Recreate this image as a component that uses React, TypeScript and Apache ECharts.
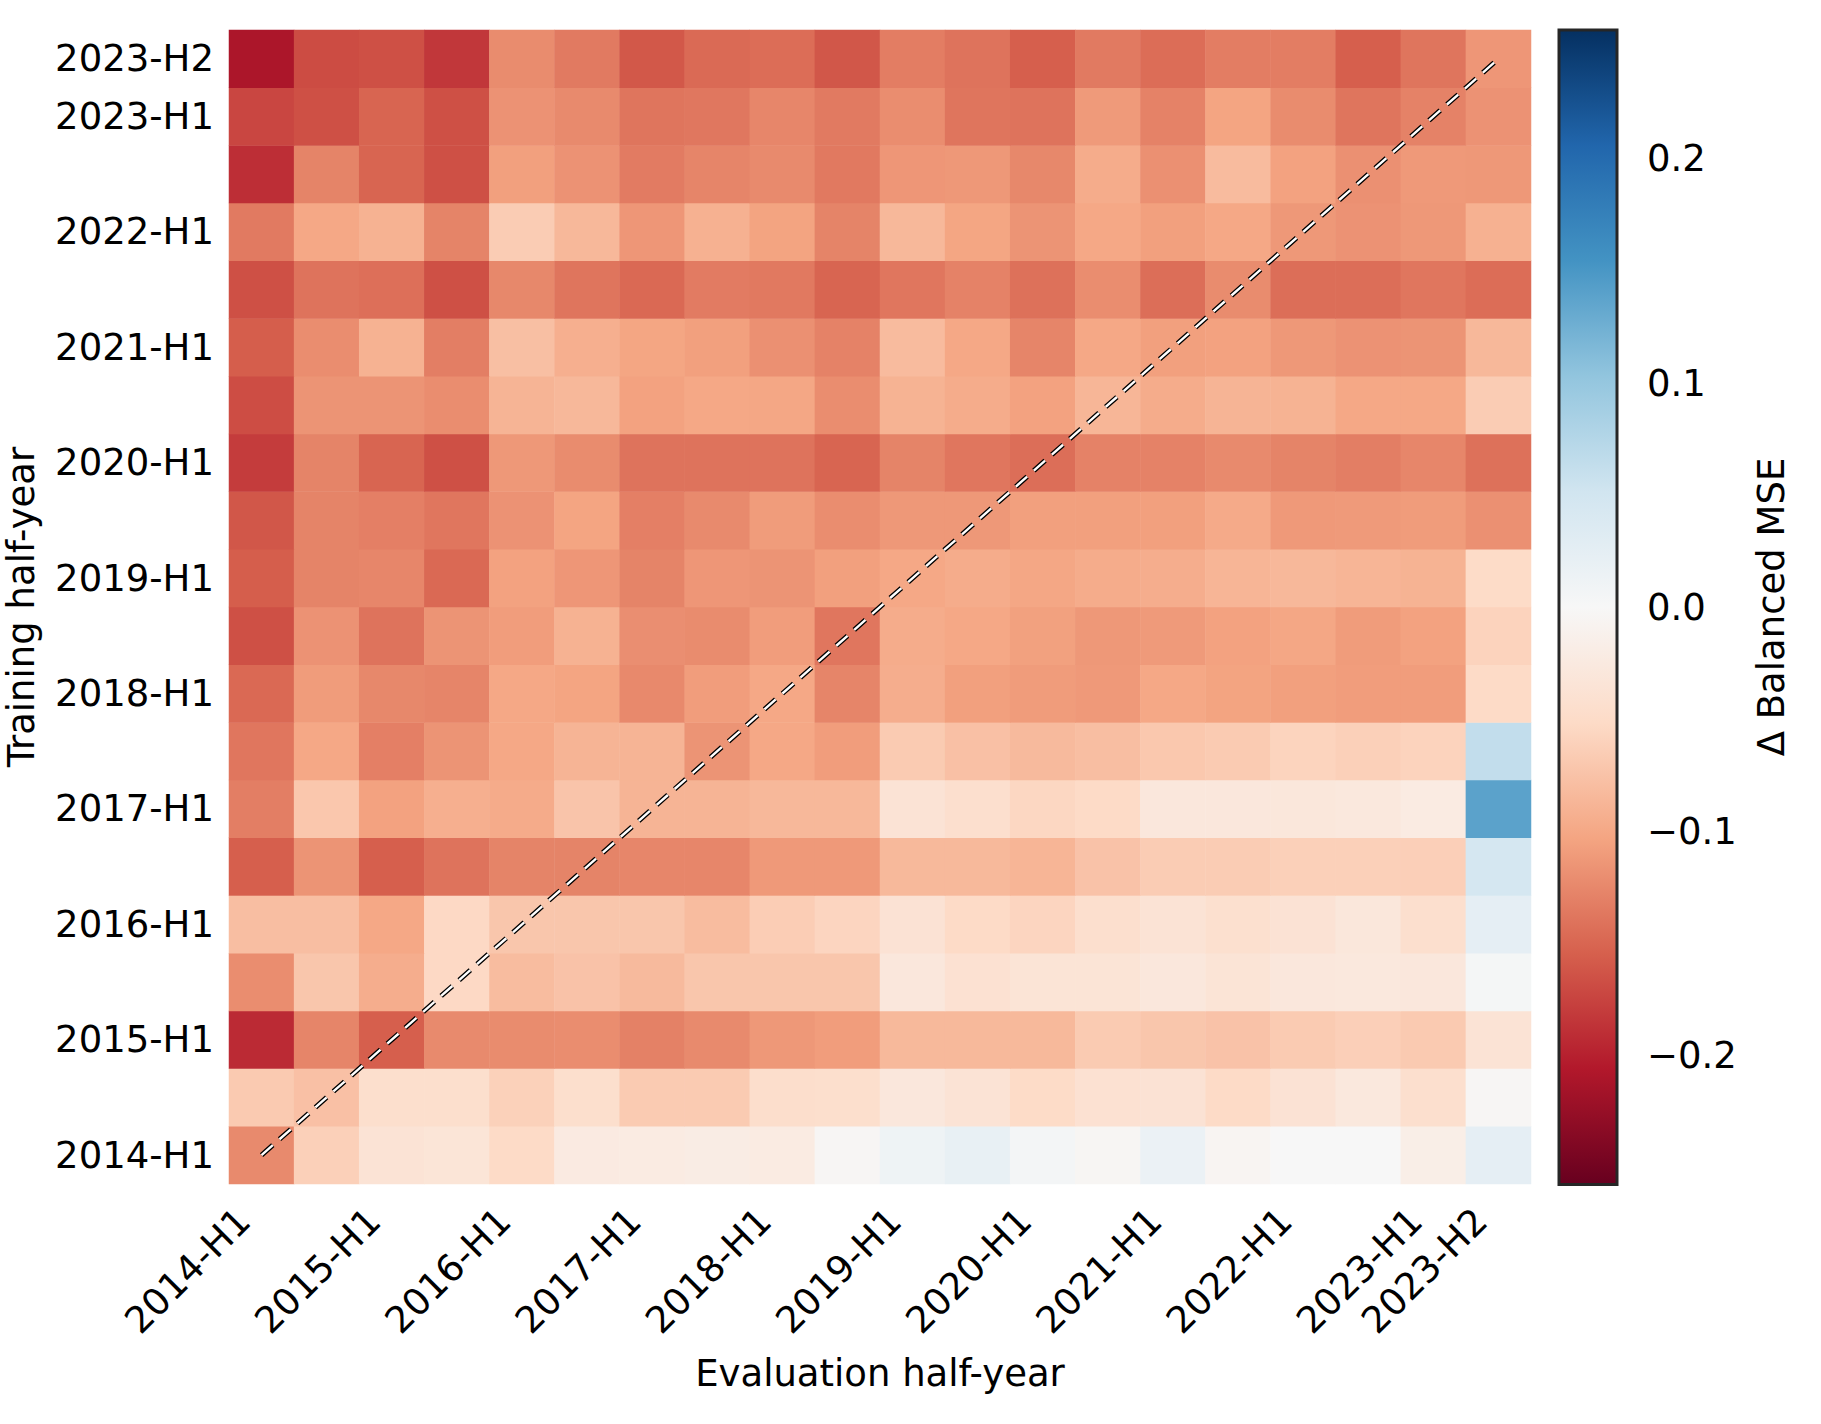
import React, { useEffect, useRef } from 'react';
import * as echarts from 'echarts';

// Half-year categories (evaluation = x, training = y)
const halfYears = [
  '2014-H1', '2014-H2', '2015-H1', '2015-H2', '2016-H1', '2016-H2', '2017-H1', '2017-H2',
  '2018-H1', '2018-H2', '2019-H1', '2019-H2', '2020-H1', '2020-H2', '2021-H1', '2021-H2',
  '2022-H1', '2022-H2', '2023-H1', '2023-H2',
];

// Δ Balanced MSE per training half-year (row), one value per evaluation half-year (column)
const train2014H1 = [-0.123, -0.062, -0.037, -0.034, -0.051, -0.024, -0.022, -0.020, -0.022, -0.003, 0.012, 0.021, 0.005, -0.004, 0.016, -0.005, 0.000, 0.000, -0.017, 0.025];
const train2014H2 = [-0.068, -0.077, -0.045, -0.045, -0.061, -0.045, -0.067, -0.067, -0.046, -0.045, -0.029, -0.036, -0.050, -0.040, -0.038, -0.051, -0.038, -0.028, -0.044, -0.003];
const train2015H1 = [-0.193, -0.127, -0.155, -0.123, -0.122, -0.121, -0.130, -0.123, -0.113, -0.109, -0.084, -0.084, -0.084, -0.067, -0.072, -0.075, -0.067, -0.063, -0.068, -0.037];
const train2015H2 = [-0.121, -0.072, -0.095, -0.053, -0.081, -0.075, -0.083, -0.072, -0.072, -0.072, -0.029, -0.040, -0.035, -0.035, -0.029, -0.035, -0.029, -0.028, -0.029, 0.004];
const train2016H1 = [-0.079, -0.079, -0.100, -0.053, -0.072, -0.072, -0.072, -0.081, -0.065, -0.057, -0.038, -0.051, -0.057, -0.044, -0.036, -0.043, -0.038, -0.030, -0.044, 0.025];
const train2016H2 = [-0.155, -0.116, -0.155, -0.140, -0.128, -0.128, -0.126, -0.126, -0.112, -0.112, -0.084, -0.084, -0.088, -0.075, -0.066, -0.066, -0.062, -0.062, -0.063, 0.046];
const train2017H1 = [-0.132, -0.071, -0.105, -0.093, -0.097, -0.073, -0.089, -0.089, -0.085, -0.085, -0.036, -0.044, -0.055, -0.051, -0.029, -0.029, -0.030, -0.028, -0.022, 0.139];
const train2017H2 = [-0.138, -0.100, -0.131, -0.116, -0.100, -0.089, -0.089, -0.116, -0.100, -0.109, -0.067, -0.077, -0.083, -0.079, -0.070, -0.067, -0.058, -0.062, -0.059, 0.064];
const train2018H1 = [-0.148, -0.110, -0.125, -0.127, -0.100, -0.103, -0.124, -0.109, -0.100, -0.127, -0.095, -0.107, -0.110, -0.112, -0.100, -0.104, -0.107, -0.109, -0.109, -0.051];
const train2018H2 = [-0.166, -0.117, -0.140, -0.116, -0.109, -0.091, -0.120, -0.122, -0.109, -0.138, -0.096, -0.100, -0.106, -0.113, -0.111, -0.105, -0.101, -0.110, -0.105, -0.059];
const train2019H1 = [-0.156, -0.128, -0.126, -0.148, -0.105, -0.114, -0.128, -0.114, -0.116, -0.107, -0.100, -0.096, -0.101, -0.096, -0.095, -0.088, -0.085, -0.088, -0.090, -0.050];
const train2019H2 = [-0.161, -0.128, -0.131, -0.138, -0.117, -0.103, -0.131, -0.123, -0.110, -0.121, -0.113, -0.113, -0.107, -0.107, -0.107, -0.098, -0.112, -0.111, -0.110, -0.119];
const train2020H1 = [-0.180, -0.128, -0.151, -0.166, -0.113, -0.122, -0.140, -0.140, -0.140, -0.151, -0.128, -0.138, -0.144, -0.129, -0.129, -0.123, -0.128, -0.132, -0.126, -0.142];
const train2020H2 = [-0.168, -0.116, -0.116, -0.121, -0.089, -0.085, -0.105, -0.100, -0.101, -0.121, -0.090, -0.096, -0.105, -0.087, -0.096, -0.089, -0.090, -0.100, -0.100, -0.066];
const train2021H1 = [-0.156, -0.121, -0.091, -0.132, -0.078, -0.093, -0.102, -0.107, -0.119, -0.129, -0.082, -0.100, -0.127, -0.100, -0.107, -0.105, -0.113, -0.117, -0.116, -0.085];
const train2021H2 = [-0.166, -0.140, -0.143, -0.166, -0.125, -0.139, -0.148, -0.134, -0.136, -0.151, -0.138, -0.129, -0.142, -0.121, -0.144, -0.122, -0.144, -0.144, -0.138, -0.145];
const train2022H1 = [-0.135, -0.100, -0.091, -0.128, -0.066, -0.085, -0.114, -0.092, -0.104, -0.128, -0.085, -0.102, -0.116, -0.100, -0.107, -0.100, -0.113, -0.117, -0.113, -0.092];
const train2022H2 = [-0.190, -0.128, -0.151, -0.166, -0.107, -0.117, -0.134, -0.127, -0.123, -0.136, -0.114, -0.113, -0.125, -0.096, -0.119, -0.082, -0.105, -0.119, -0.112, -0.113];
const train2023H1 = [-0.173, -0.166, -0.151, -0.166, -0.117, -0.123, -0.139, -0.137, -0.126, -0.135, -0.121, -0.139, -0.140, -0.111, -0.129, -0.103, -0.122, -0.139, -0.129, -0.117];
const train2023H2 = [-0.210, -0.169, -0.166, -0.184, -0.122, -0.135, -0.160, -0.147, -0.145, -0.161, -0.133, -0.140, -0.155, -0.135, -0.145, -0.133, -0.133, -0.155, -0.139, -0.114];

const trainingRows = [
  train2014H1, train2014H2, train2015H1, train2015H2, train2016H1, train2016H2,
  train2017H1, train2017H2, train2018H1, train2018H2, train2019H1, train2019H2,
  train2020H1, train2020H2, train2021H1, train2021H2, train2022H1, train2022H2,
  train2023H1, train2023H2,
];

// Colour scale limits and colourbar ticks
const colorLimit = 0.2575;
const colorbarTicks = [-0.2, -0.1, 0, 0.1, 0.2];

// matplotlib RdBu (low -> high)
const rdbu = [
  '#67001f', '#b2182b', '#d6604d', '#f4a582', '#fddbc7', '#f7f7f7',
  '#d1e5f0', '#92c5de', '#4393c3', '#2166ac', '#053061',
];

const FONT = 'DejaVu Sans';

export default function App() {
  const ref = useRef<HTMLDivElement>(null);

  useEffect(() => {
    if (!ref.current) return;
    const chart = echarts.init(ref.current, undefined, { renderer: 'svg' });

    const heatData: [number, number, number][] = [];
    trainingRows.forEach((row, r) => {
      row.forEach((v, c) => heatData.push([c, r, v]));
    });

    const showLabel = (index: number) => index % 2 === 0 || index === halfYears.length - 1;
    const last = halfYears.length - 1;
    const diag = [
      [halfYears[0], halfYears[0]],
      [halfYears[last], halfYears[last]],
    ];

    const gradientStops = rdbu
      .slice()
      .reverse()
      .map((color, i) => ({ offset: i / (rdbu.length - 1), color }));

    const option: any = {
      animation: false,
      backgroundColor: '#ffffff',
      textStyle: { fontFamily: FONT },
      grid: [
        { left: 229, top: 30, width: 1302, height: 1154 },
        { left: 1559, top: 30, width: 58, height: 1154.5 },
      ],
      xAxis: [
        {
          type: 'category',
          gridIndex: 0,
          data: halfYears,
          axisLine: { show: false },
          axisTick: { show: false },
          splitLine: { show: false },
          splitArea: { show: false },
          axisLabel: {
            interval: showLabel,
            rotate: 45,
            margin: 13,
            padding: [0, 25, 0, 0],
            fontSize: 37,
            color: '#000',
            fontFamily: FONT,
          },
        },
        { type: 'value', gridIndex: 1, show: false, min: 0, max: 1 },
      ],
      yAxis: [
        {
          type: 'category',
          gridIndex: 0,
          data: halfYears,
          axisLine: { show: false },
          axisTick: { show: false },
          splitLine: { show: false },
          splitArea: { show: false },
          axisLabel: {
            interval: showLabel,
            margin: 15,
            fontSize: 37,
            color: '#000',
            fontFamily: FONT,
          },
        },
        {
          type: 'value',
          gridIndex: 1,
          position: 'right',
          min: -colorLimit,
          max: colorLimit,
          axisLine: { show: false },
          splitLine: { show: false },
          axisTick: {
            show: true,
            length: 15,
            customValues: colorbarTicks,
            lineStyle: { color: '#000', width: 2.2 },
          },
          axisLabel: {
            customValues: colorbarTicks,
            margin: 30,
            fontSize: 37,
            color: '#000',
            fontFamily: FONT,
            formatter: (v: number) => (v < 0 ? '\u2212' : '') + Math.abs(v).toFixed(1),
          },
        },
      ],
      visualMap: {
        show: false,
        type: 'continuous',
        min: -colorLimit,
        max: colorLimit,
        dimension: 2,
        seriesIndex: 0,
        inRange: { color: rdbu },
      },
      series: [
        {
          type: 'heatmap',
          xAxisIndex: 0,
          yAxisIndex: 0,
          data: heatData,
          itemStyle: { borderWidth: 0 },
          emphasis: { disabled: true },
          silent: true,
        },
        {
          type: 'line',
          xAxisIndex: 0,
          yAxisIndex: 0,
          data: diag,
          symbol: 'none',
          silent: true,
          z: 5,
          lineStyle: { color: '#000', width: 5, type: [15, 9], cap: 'butt' },
        },
        {
          type: 'line',
          xAxisIndex: 0,
          yAxisIndex: 0,
          data: diag,
          symbol: 'none',
          silent: true,
          z: 6,
          lineStyle: { color: '#fff', width: 2.4, type: [15, 9], cap: 'butt' },
        },
      ],
      graphic: [
        {
          type: 'rect',
          shape: { x: 1559, y: 30, width: 58, height: 1154.5 },
          style: {
            fill: new echarts.graphic.LinearGradient(0, 0, 0, 1, gradientStops),
            stroke: '#262626',
            lineWidth: 3,
          },
          z: 1,
          silent: true,
        },
        {
          type: 'text',
          x: 880,
          y: 1373,
          style: {
            text: 'Evaluation half-year',
            fontSize: 37,
            fontFamily: FONT,
            fill: '#000',
            align: 'center',
            verticalAlign: 'middle',
          },
        },
        {
          type: 'text',
          x: 21,
          y: 607,
          rotation: Math.PI / 2,
          style: {
            text: 'Training half-year',
            fontSize: 37,
            fontFamily: FONT,
            fill: '#000',
            align: 'center',
            verticalAlign: 'middle',
          },
        },
        {
          type: 'text',
          x: 1771,
          y: 607,
          rotation: Math.PI / 2,
          style: {
            text: '\u0394 Balanced MSE',
            fontSize: 37,
            fontFamily: FONT,
            fill: '#000',
            align: 'center',
            verticalAlign: 'middle',
          },
        },
      ],
    };

    chart.setOption(option);
    return () => chart.dispose();
  }, []);

  return (
    <div
      ref={ref}
      style={{ position: 'absolute', left: 0, top: 0, width: 1821, height: 1424, background: '#fff' }}
    />
  );
}
